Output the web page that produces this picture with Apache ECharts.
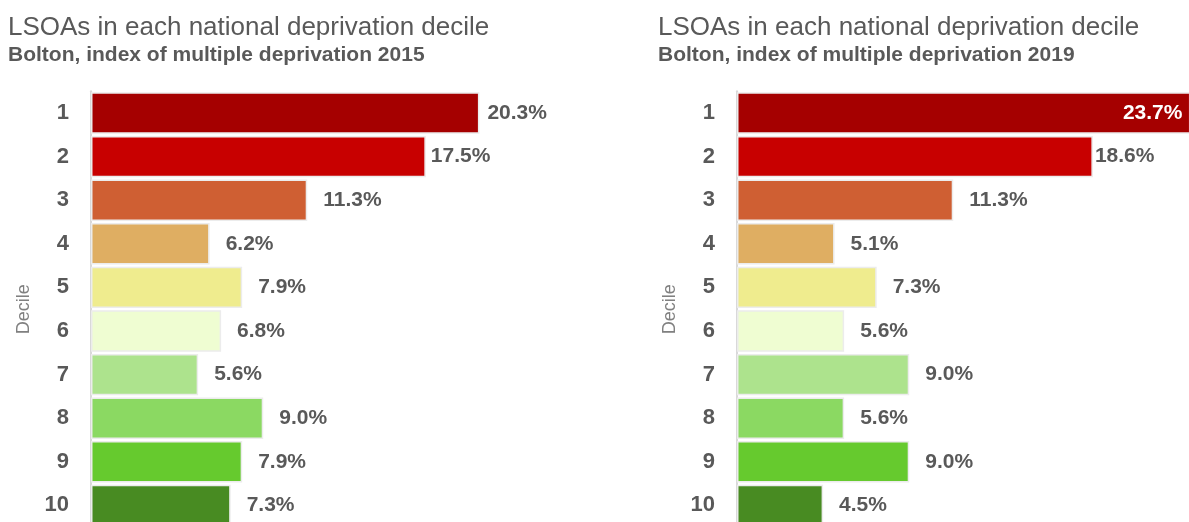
<!DOCTYPE html>
<html>
<head>
<meta charset="utf-8">
<script src="https://cdn.jsdelivr.net/npm/echarts@6/dist/echarts.min.js"></script>
<style>
html,body{margin:0;padding:0;background:#fff;}
#c{width:1189px;height:522px;}
</style>
</head>
<body>
<div id="c"></div>
<script>
// ---- data ----
const categories = ['1', '2', '3', '4', '5', '6', '7', '8', '9', '10'];
const pct2015 = [20.3, 17.5, 11.3, 6.2, 7.9, 6.8, 5.6, 9.0, 7.9, 7.3];
const pct2019 = [23.7, 18.6, 11.3, 5.1, 7.3, 5.6, 9.0, 5.6, 9.0, 4.5];
const titleText = 'LSOAs in each national deprivation decile';
const subtitle2015 = 'Bolton, index of multiple deprivation 2015';
const subtitle2019 = 'Bolton, index of multiple deprivation 2019';
const axisName = 'Decile';

// ---- styles ----
const palette = ['#A50000', '#C80000', '#CF5F33', '#DFAE62', '#EFEC8E',
                 '#EFFDD2', '#ADE38D', '#8BD962', '#66CA2E', '#488B22'];
const FONT = '"Liberation Sans", Arial, sans-serif';
const GREY = '#595959';
// per-bar label tweaks (distance from bar end / inside)
const labelTweaks = [
  {0: {distance: 8}, 1: {distance: 5}},
  {0: {position: 'insideRight', distance: 8, color: '#ffffff'}, 1: {distance: 2}}
];

function buildData(values, tweaks) {
  return values.map((v, i) => {
    const d = {value: v, itemStyle: {color: palette[i]}};
    if (tweaks[i]) d.label = Object.assign({}, tweaks[i]);
    return d;
  });
}

const SCALE_MAX = 30;
const GRID_W = 574;
const GRID_TOP = 91.2;
const GRID_H = 436;

function yAxisDef(gridIndex) {
  return {
    gridIndex: gridIndex,
    type: 'category',
    inverse: true,
    data: categories,
    axisTick: {show: false},
    axisLine: {show: true, lineStyle: {color: '#d9d9d9', width: 2}},
    axisLabel: {fontSize: 22, fontWeight: 'bold', color: GREY, margin: 22, fontFamily: FONT},
    name: axisName,
    nameLocation: 'middle',
    nameRotate: 90,
    nameGap: 58,
    nameTextStyle: {fontSize: 18, color: '#808080', fontFamily: FONT}
  };
}
function xAxisDef(gridIndex) {
  return {gridIndex: gridIndex, type: 'value', min: 0, max: SCALE_MAX, show: false};
}
function seriesDef(idx, values) {
  return {
    type: 'bar',
    xAxisIndex: idx,
    yAxisIndex: idx,
    barCategoryGap: '5%',
    data: buildData(values, labelTweaks[idx]),
    itemStyle: {borderColor: '#ececec', borderWidth: 1.5},
    label: {
      show: true,
      position: 'right',
      distance: 16,
      formatter: p => p.value.toFixed(1) + '%',
      fontSize: 21,
      fontWeight: 'bold',
      color: GREY,
      fontFamily: FONT
    },
    silent: true,
    animation: false
  };
}

function titleDef(sub, left) {
  return {
    text: titleText, subtext: sub, left: left, top: 15, padding: 0, itemGap: 4,
    textStyle: {fontSize: 26, fontWeight: 'normal', color: GREY, fontFamily: FONT},
    subtextStyle: {fontSize: 21, fontWeight: 'bold', color: GREY, fontFamily: FONT}
  };
}

const chart = echarts.init(document.getElementById('c'), null, {renderer: 'canvas'});
chart.setOption({
  backgroundColor: '#ffffff',
  animation: false,
  title: [titleDef(subtitle2015, 8), titleDef(subtitle2019, 658)],
  grid: [
    {left: 91, top: GRID_TOP, width: GRID_W, height: GRID_H, outerBoundsMode: 'none', containLabel: false},
    {left: 737, top: GRID_TOP, width: GRID_W, height: GRID_H, outerBoundsMode: 'none', containLabel: false}
  ],
  xAxis: [xAxisDef(0), xAxisDef(1)],
  yAxis: [yAxisDef(0), yAxisDef(1)],
  series: [seriesDef(0, pct2015), seriesDef(1, pct2019)]
});
</script>
</body>
</html>
